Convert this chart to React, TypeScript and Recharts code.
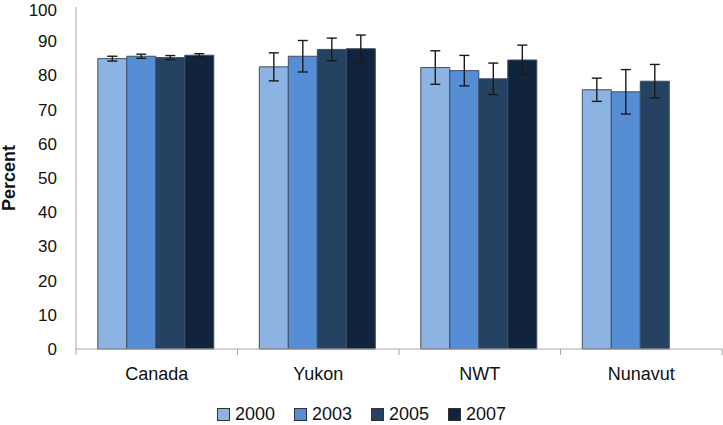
import { Bar, BarChart, ErrorBar, Legend, XAxis, YAxis } from "recharts";

const categories = ["Canada", "Yukon", "NWT", "Nunavut"];
const years = ["2000", "2003", "2005", "2007"];
const v2000 = [84.9, 82.5, 82.3, 75.8];
const v2003 = [85.6, 85.6, 81.4, 75.2];
const v2005 = [85.2, 87.6, 79.0, 78.3];
const v2007 = [85.9, 87.8, 84.5, null];
const e2000 = [0.7, 4.1, 4.9, 3.4];
const e2003 = [0.6, 4.6, 4.45, 6.5];
const e2005 = [0.6, 3.3, 4.6, 4.9];
const e2007 = [0.45, 4.0, 4.35, null];
const yTicks = [0, 10, 20, 30, 40, 50, 60, 70, 80, 90, 100];

const colors = ["#8DB3E2", "#558ED5", "#264263", "#10243E"];
const FONT = "'Liberation Sans', Arial, Helvetica, sans-serif";
const W = 723;
const H = 425;
const Y_W = 76;
const HALF_BAND = (W - Y_W - 1) / categories.length / 2;

const data = categories.map((c, i) => ({
  cat: c,
  y2000: v2000[i], e2000: e2000[i],
  y2003: v2003[i], e2003: e2003[i],
  y2005: v2005[i], e2005: e2005[i],
  y2007: v2007[i], e2007: e2007[i],
}));

function CatTick(props: any) {
  const { x, y, payload, index } = props;
  const last = index === categories.length - 1;
  return (
    <g>
      <line x1={x - HALF_BAND} x2={x - HALF_BAND} y1={y} y2={y + 6} stroke="#a6a6a6" />
      {last && <line x1={x + HALF_BAND} x2={x + HALF_BAND} y1={y} y2={y + 6} stroke="#a6a6a6" />}
      <text x={x} y={y + 18} dy="0.71em" textAnchor="middle" fontSize={18} fontFamily={FONT} fill="#111">
        {payload.value}
      </text>
    </g>
  );
}

function PercentLabel(props: any) {
  const vb = props.viewBox || {};
  const cy = (vb.y ?? 7) + (vb.height ?? 342) / 2;
  return (
    <text x={15} y={cy} transform={`rotate(-90, 15, ${cy})`} textAnchor="middle" fontSize={18} fontWeight="bold" fontFamily={FONT} fill="#111">
      Percent
    </text>
  );
}

// legenda centrada na largura toda, como no original do Excel
function LegendBox() {
  return (
    <div style={{ display: "flex", justifyContent: "center", alignItems: "center", height: 20, fontFamily: FONT, fontSize: 18, lineHeight: "20px", color: "#111" }}>
      {years.map((yr, i) => (
        <div key={yr} style={{ display: "flex", alignItems: "center", marginRight: i < years.length - 1 ? 19 : 0 }}>
          <span style={{ width: 11, height: 11, background: colors[i], border: "1px solid #333", marginRight: 5, display: "inline-block" }} />
          <span>{yr}</span>
        </div>
      ))}
    </div>
  );
}

export default function App() {
  return (
    <div style={{ position: "absolute", left: 0, top: 0, width: W, height: H, background: "#fff" }}>
      <BarChart width={W} height={H} data={data} margin={{ top: 7, right: 1, left: 0, bottom: 0 }} barCategoryGap="13.5%" barGap={0}>
        <XAxis
          dataKey="cat"
          stroke="#a6a6a6"
          tickLine={false}
          tickSize={0}
          tickMargin={0}
          height={56}
          tick={<CatTick />}
          interval={0}
        />
        <YAxis
          domain={[0, 100]}
          ticks={yTicks}
          width={Y_W}
          stroke="#a6a6a6"
          tickLine={false}
          tickSize={0}
          tickMargin={19}
          tick={{ fontSize: 17, fontFamily: FONT, fill: "#111" }}
          label={<PercentLabel />}
        />
        <Legend
          verticalAlign="bottom"
          content={<LegendBox />}
          wrapperStyle={{ position: "absolute", left: 0, top: 404, width: W, height: 20 }}
        />
        {years.map((yr, i) => (
          <Bar key={yr} dataKey={`y${yr}`} name={yr} fill={colors[i]} stroke="#3f4f66" strokeWidth={1} isAnimationActive={false}>
            <ErrorBar dataKey={`e${yr}`} width={5} stroke="#1a1a1a" strokeWidth={1.4} direction="y" />
          </Bar>
        ))}
      </BarChart>
    </div>
  );
}
